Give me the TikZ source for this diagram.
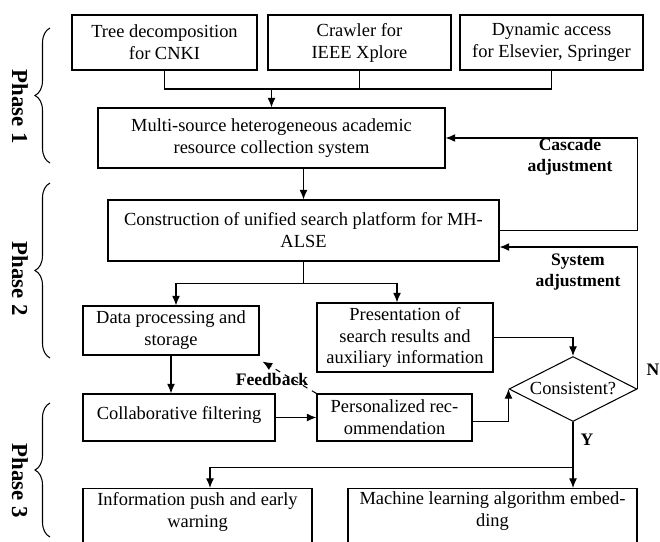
\documentclass[tikz,border=0pt]{standalone}
\usepackage{fontspec}
\setmainfont{Liberation Serif}
\usepackage{tikz}
\usetikzlibrary{shapes,arrows,arrows.meta,positioning,decorations.pathreplacing}

\begin{document}
\begin{tikzpicture}[
    box/.style   = {draw, semithick, align=center, inner sep=2pt,
                    font=\fontsize{10.5}{12.5}\selectfont},
    decide/.style= {draw, semithick, diamond, aspect=2, inner sep=0pt,
                    minimum width=2.56cm, minimum height=1.30cm,
                    font=\fontsize{10.5}{12.5}\selectfont},
    wire/.style  = {semithick},
    arr/.style   = {semithick, -{Latex[length=5.5pt,width=4.5pt]}},
    lbl/.style   = {font=\fontsize{10}{12}\selectfont\bfseries, align=center},
    phase/.style = {font=\fontsize{13}{15}\selectfont\bfseries, rotate=-90},
    brc/.style   = {semithick, decorate, decoration={brace, amplitude=0.3cm}}
]
    \useasboundingbox (0,0) rectangle (13.2,-10.82);
    \clip (0,0) rectangle (13.2,-10.82);

    %-- Phase 1: sources ------------------------------------------------------
    \node[box, minimum width=3.70cm, minimum height=1.10cm] (cnki)
          at (3.29,-0.85) {Tree decomposition\\for CNKI};
    \node[box, minimum width=3.66cm, minimum height=1.10cm] (ieee)
          at (7.19,-0.85) {Crawler for\\IEEE Xplore};
    \node[box, minimum width=3.66cm, minimum height=1.10cm] (elsv)
          at (11.03,-0.85) {Dynamic access\\for Elsevier, Springer};

    \node[box, minimum width=6.94cm, minimum height=1.20cm] (coll)
          at (5.43,-2.76) {Multi-source heterogeneous academic\\resource collection system};

    %-- Phase 2 --------------------------------------------------------------
    \node[box, minimum width=7.82cm, minimum height=1.22cm] (plat)
          at (6.07,-4.61) {Construction of unified search platform for MH-\\ALSE};
    \node[box, minimum width=3.52cm, minimum height=0.98cm] (data)
          at (3.42,-6.61) {Data processing and\\storage};
    \node[box, minimum width=3.52cm, minimum height=1.38cm] (pres)
          at (8.10,-6.75) {Presentation of\\search results and\\auxiliary information};

    %-- Phase 3 --------------------------------------------------------------
    \node[box, minimum width=3.84cm, minimum height=0.94cm, text depth=0.2cm] (cofi)
          at (3.58,-8.35) {Collaborative filtering};
    \node[box, minimum width=3.10cm, minimum height=0.94cm] (reco)
          at (7.89,-8.35) {Personalized rec-\\ommendation};
    \node[decide] (cons) at (11.46,-7.78) {Consistent?};

    % bottom boxes run past the lower edge
    \node[box, anchor=north, minimum width=4.58cm, text depth=1.6cm] (push)
          at (3.95,-9.76) {Information push and early\\warning};
    \node[box, anchor=north, minimum width=5.78cm, text depth=1.6cm] (mlem)
          at (9.85,-9.76) {Machine learning algorithm embed-\\ding};

    %-- Sources -> collection system ----------------------------------------
    \coordinate (join) at (5.46,-1.78);
    \draw[wire] (cnki.south) |- (elsv.south |- join) -- (elsv.south);
    \draw[wire] (ieee.south) -- (ieee.south |- join);
    \draw[arr]  (coll.north |- join) -- (coll.north);

    \draw[arr]  (coll.south -| plat.north) -- (plat.north);

    %-- Platform -> data / presentation --------------------------------------
    \draw[wire] (plat.south) -- ++(0,-0.44) coordinate (split);
    \draw[arr]  (split) -| ([xshift=0.1cm]data.north);
    \draw[arr]  (split) -| ([xshift=-0.16cm]pres.north);

    \draw[arr]  (data.south) -- (data.south |- cofi.north);
    \draw[arr]  (cofi.east) -- (cofi.east -| reco.west);
    \draw[arr, dashed] (reco.north west) -- ([shift={(0.06cm,-0.12cm)}]data.south east);

    %-- Into the decision ----------------------------------------------------
    \draw[arr]  (pres.east) -| (cons.north);
    \draw[arr]  ([yshift=-0.08cm]reco.east) -| (cons.west);

    %-- Feedback loops (right side) ------------------------------------------
    \draw[arr]  (plat.east) -- (plat.east -| cons.east) |- (coll.east);
    \draw[arr]  (cons.east) |- ([yshift=-0.33cm]plat.east);

    %-- Yes branch -----------------------------------------------------------
    \draw[wire] (cons.south) -- ++(0,-0.90) coordinate (yes);
    \draw[arr]  (yes) -- (yes -| cons.south) -- (cons.south |- mlem.north);
    \draw[arr]  (yes) -| ([xshift=0.25cm]push.north);

    %-- Labels ---------------------------------------------------------------
    \node[lbl] (casc) at (11.40,-3.14) {Cascade\\adjustment};
    \node[lbl] (syst) at (11.56,-5.44) {System\\adjustment};
    \node[lbl] (nlab) at (13.06,-7.40) {N};
    \node[lbl] (ylab) at (11.74,-8.80) {Y};
    \node[lbl] (fdbk) at (5.44,-7.58) {Feedback};

    %-- Phase braces ---------------------------------------------------------
    \draw[brc] (1.0,-3.26) -- (1.0,-0.56);
    \draw[brc] (1.0,-7.16) -- (1.0,-3.66);
    \draw[brc] (1.0,-10.74) -- (1.0,-8.06);
    \node[phase] (ph1) at (0.40,-2.14) {Phase 1};
    \node[phase] (ph2) at (0.40,-5.58) {Phase 2};
    \node[phase] (ph3) at (0.40,-9.62) {Phase 3};

\end{tikzpicture}
\end{document}
